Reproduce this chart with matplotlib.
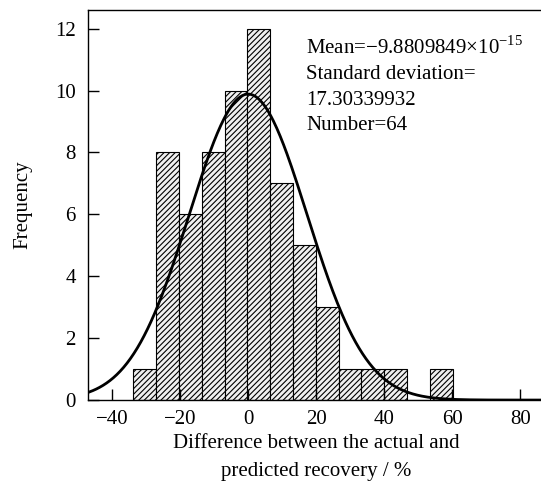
import matplotlib
matplotlib.use("Agg")
import matplotlib.pyplot as plt
import numpy as np

plt.rcParams['font.family'] = ['Liberation Serif', 'DejaVu Serif']
plt.rcParams['hatch.linewidth'] = 0.8

# histogram bins (difference between actual and predicted recovery, %)
bin_edges = [-33.7, -27.0, -20.3, -13.6, -6.9, -0.2, 6.5, 13.2, 19.9,
             26.6, 33.3, 40.0, 46.7, 53.4, 60.1]
counts = [1, 8, 6, 8, 10, 12, 7, 5, 3, 1, 1, 1, 0, 1]

# fitted normal distribution
mean = -9.8809849e-15
std = 17.30339932
number = 64

fig = plt.figure(figsize=(5.41, 4.82), dpi=100)
ax = fig.add_axes([0.163, 0.170, 0.843, 0.809])

lefts = np.array(bin_edges[:-1])
widths = np.diff(bin_edges)
ax.bar(lefts, counts, width=widths, align='edge', facecolor='#f0f0f0',
       edgecolor='black', linewidth=0.8, hatch='//////')

bw = widths.mean()
xs = np.linspace(-47, 87, 400)
ys = number * bw / (std * np.sqrt(2 * np.pi)) * np.exp(-0.5 * ((xs - mean) / std) ** 2)
ax.plot(xs, ys, color='black', linewidth=2)

ax.text(17.0, 11.75, 'Mean=\u22129.8809849\u00d710$^{\\mathregular{\u221215}}$\n'
        'Standard deviation=\n17.30339932\nNumber=64',
        fontsize=15, va='top', ha='left', linespacing=1.45)

ax.set_xlim(-47, 87)
ax.set_ylim(0, 12.6)
ax.set_xticks([-40, -20, 0, 20, 40, 60, 80])
ax.set_xticklabels(['\u221240', '\u221220', '0', '20', '40', '60', '80'])
ax.set_yticks([0, 2, 4, 6, 8, 10, 12])
ax.tick_params(direction='in', labelsize=15, length=8, width=1)
ax.tick_params(axis='x', pad=7)
ax.tick_params(axis='y', pad=9)
ax.spines['right'].set_visible(False)
for s in ['left', 'bottom', 'top']:
    ax.spines[s].set_linewidth(1.0)

ax.set_xlabel('Difference between the actual and\npredicted recovery / %', fontsize=15,
              linespacing=1.6)
ax.set_ylabel('Frequency', fontsize=15)
ax.yaxis.set_label_coords(-0.123, 0.5)

fig.savefig('out.png', dpi=100)
